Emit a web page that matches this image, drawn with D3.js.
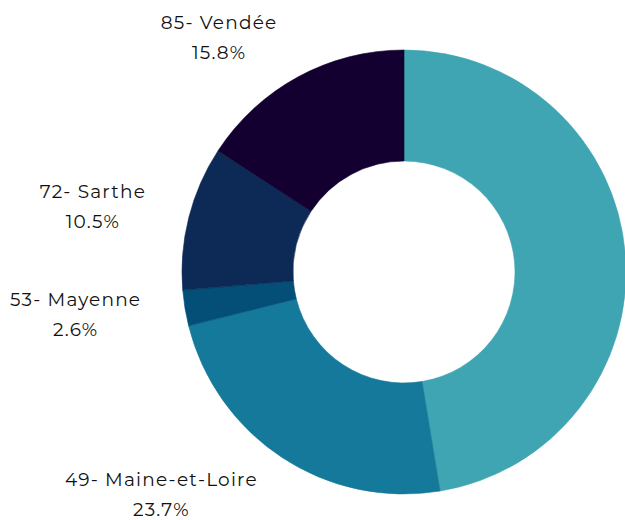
<!DOCTYPE html>
<html><head><meta charset="utf-8">
<script src="https://cdn.jsdelivr.net/npm/d3@7"></script>
<style>html,body{margin:0;padding:0;background:#fff;overflow:hidden}</style>
</head><body>
<svg id="chart" width="625" height="520"></svg>
<script>
const categories = ["44- Loire-Atlantique", "49- Maine-et-Loire", "53- Mayenne", "72- Sarthe", "85- Vendée"];
const shares = [47.4, 23.7, 2.6, 10.5, 15.8];
const colors = ["#3fa5b3", "#14799a", "#034f78", "#0d2a57", "#130030"];

const W = 625, H = 520;
const svg = d3.select("#chart");
const cx = 404, cy = 272, R = 222, r = 111;
const g = svg.append("g").attr("transform", `translate(${cx},${cy})`);
const data = categories.map((c, i) => ({name: c, value: shares[i], color: colors[i]}));
const pie = d3.pie().value(d => d.value).sort(null);
const arcs = pie(data);
const arc = d3.arc().innerRadius(r).outerRadius(R);
const labelArc = d3.arc().innerRadius(R * 1.2).outerRadius(R * 1.2);

g.selectAll("path").data(arcs).join("path")
  .attr("d", arc).attr("fill", d => d.data.color)
  .attr("stroke", d => d.data.color).attr("stroke-width", 0.6);

const fmt = d3.format(".1f");
arcs.forEach(a => {
  const [px, py] = labelArc.centroid(a);
  const mid = (a.startAngle + a.endAngle) / 2;
  const left = mid > Math.PI;
  // labels that fall beyond the visible frame (right side) are not shown in the original
  if (!left && cx + px > W) return;
  const t = g.append("text")
    .attr("font-family", "Montserrat, 'Open Sans', sans-serif")
    .attr("font-size", 18.5).attr("letter-spacing", 1.2).attr("fill", "#111")
    .attr("text-anchor", "middle");
  const l1 = t.append("tspan").text(a.data.name);
  const l2 = t.append("tspan").text(fmt(a.data.value) + "%");
  const w = Math.max(l1.node().getComputedTextLength(), l2.node().getComputedTextLength());
  const x = left ? px - w / 2 : px + w / 2;
  l1.attr("x", x).attr("y", py - 9);
  l2.attr("x", x).attr("y", py + 21);
});
</script>
</body></html>
